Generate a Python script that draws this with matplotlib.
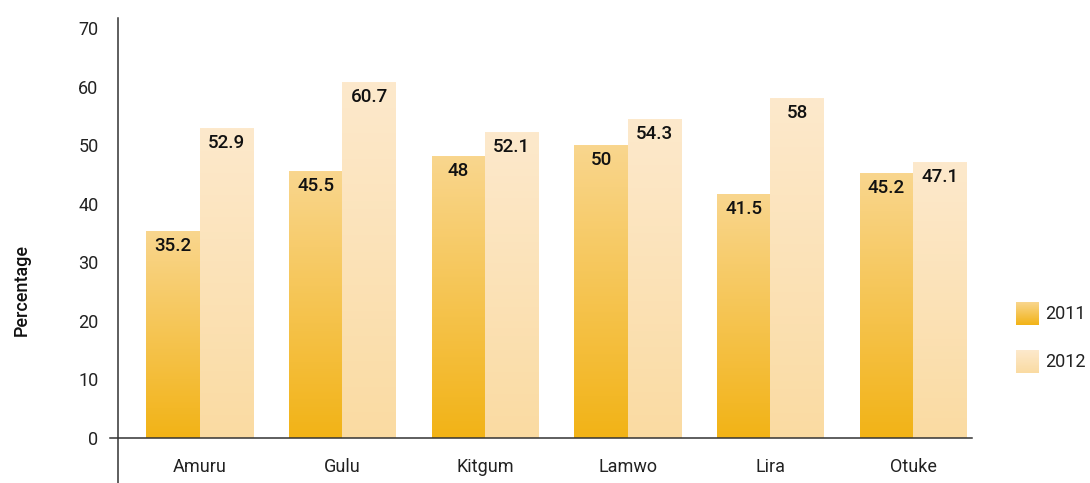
import numpy as np
import matplotlib.pyplot as plt
from matplotlib.colors import LinearSegmentedColormap

districts = ["Amuru", "Gulu", "Kitgum", "Lamwo", "Lira", "Otuke"]
years = ["2011", "2012"]
values_2011 = [35.2, 45.5, 48, 50, 41.5, 45.2]
values_2012 = [52.9, 60.7, 52.1, 54.3, 58, 47.1]
yticks = [0, 10, 20, 30, 40, 50, 60, 70]

plt.rcParams['font.family'] = ['Roboto', 'DejaVu Sans']

# gradient colour maps (bottom -> top)
cmap_2011 = LinearSegmentedColormap.from_list("c11", ["#F2B316", "#F9D68E"])
cmap_2012 = LinearSegmentedColormap.from_list("c12", ["#FADBA2", "#FDE9CC"])
grad = np.linspace(0, 1, 256).reshape(-1, 1)

fig = plt.figure(figsize=(10.9, 4.83), dpi=100)
ax = fig.add_axes([118 / 1090, 0, (972 - 118) / 1090, 1 - 18 / 483])

x = np.arange(len(districts))
w = 0.374
for vals, off, cmap in [(values_2011, -w / 2, cmap_2011), (values_2012, w / 2, cmap_2012)]:
    for xi, v in zip(x, vals):
        x0 = xi + off - w / 2
        ax.imshow(grad, cmap=cmap, origin='lower', aspect='auto',
                  extent=(x0, x0 + w, 0, v), zorder=2)
        ax.annotate(f"{v:g}", (xi + off, v), xytext=(0, -4), textcoords='offset points',
                    ha='center', va='top', fontsize=13.5, fontweight='medium', color='#111111', zorder=3)

ax.set_xlim(-0.573, 5.413)
ax.set_ylim(-7.7, 71.7)

for s in ['top', 'right', 'bottom']:
    ax.spines[s].set_visible(False)
ax.spines['left'].set_color('#333333')
ax.spines['left'].set_linewidth(1.1)
ax.axhline(0, xmin=-8 / 854, xmax=1, color='#333333', lw=1.1, clip_on=False, zorder=4)

ax.set_yticks(yticks)
ax.set_yticklabels([str(t) for t in yticks], fontsize=13, color='#222222')
ax.tick_params(axis='y', length=0, pad=14)
ax.set_xticks([])

for xi, name in zip(x, districts):
    ax.text(xi, -5, name, ha='center', va='center', fontsize=13, color='#222222')

fig.text(22 / 1090, 1 - 290 / 483, "Percentage", rotation=90, ha='center', va='center',
         fontsize=13, fontweight='medium', color='#111111')

# legend swatches
for i, (yr, cmap) in enumerate(zip(years, [cmap_2011, cmap_2012])):
    top = 302 + i * 48
    lax = fig.add_axes([1016 / 1090, 1 - (top + 23) / 483, 23 / 1090, 23 / 483])
    lax.imshow(grad, cmap=cmap, origin='lower', aspect='auto')
    lax.axis('off')
    fig.text(1045 / 1090, 1 - (top + 12) / 483, yr, ha='left', va='center',
             fontsize=13, color='#222222')

fig.savefig("out.png", dpi=100)
